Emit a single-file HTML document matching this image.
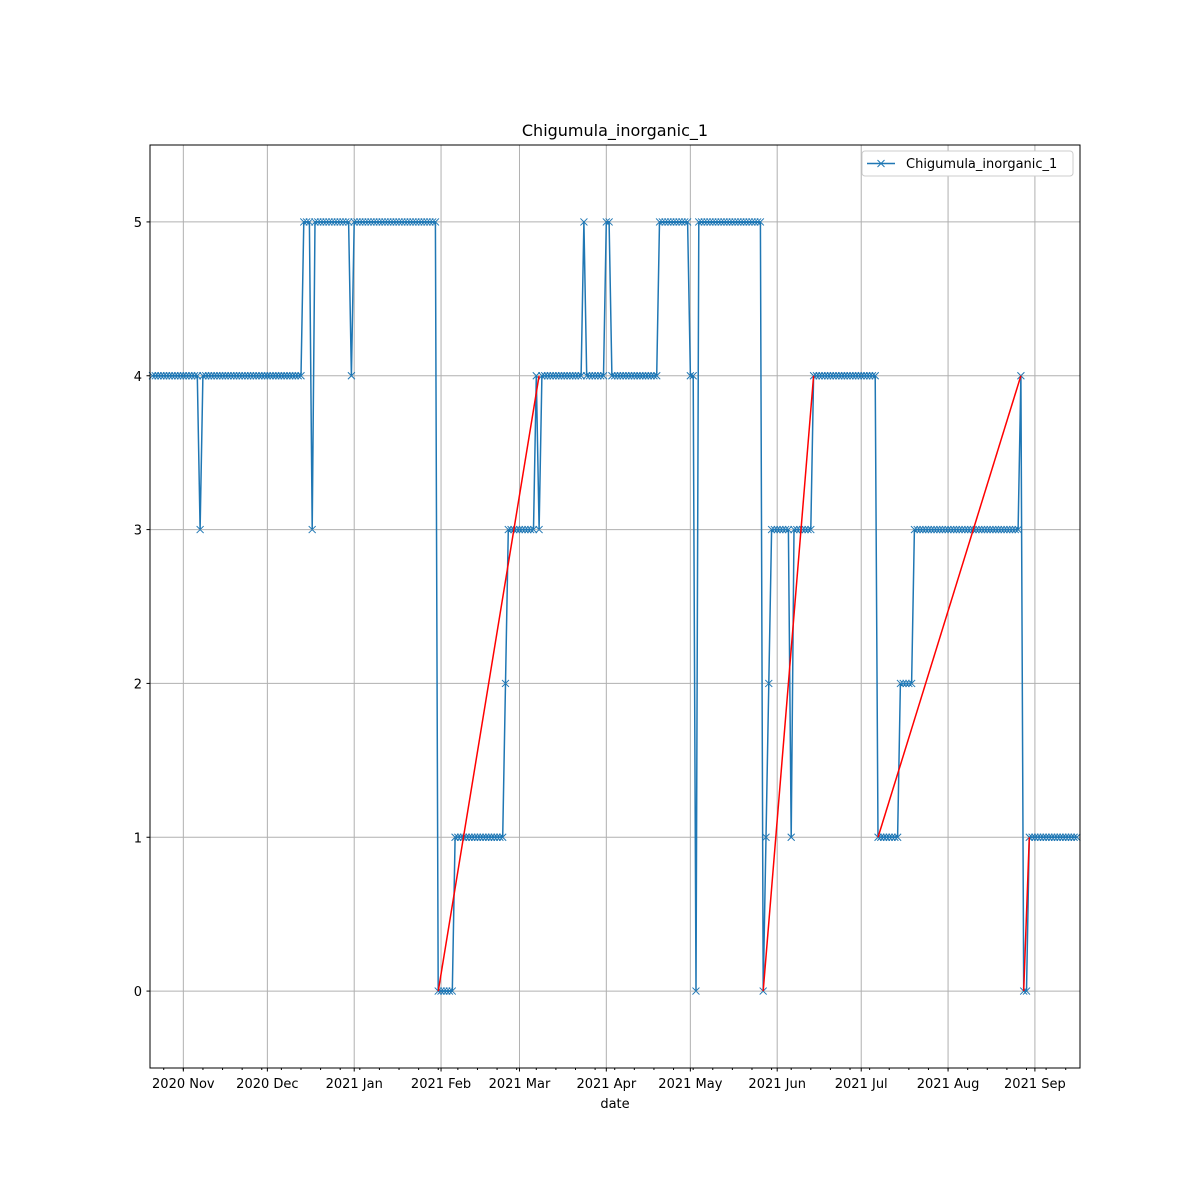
<!DOCTYPE html>
<html><head><meta charset="utf-8"><style>
html,body{margin:0;padding:0;background:#fff;}
svg{display:block;font-family:"DejaVu Sans","Liberation Sans",sans-serif;}
</style></head><body>
<svg id="chart" width="1200" height="1200"></svg>
<script>
// start date of the series: 2020-10-21, daily observations
const startDate = "2020-10-21";
const runValues  = [4,3,4,5,3,5,4,5,0,1,2,3,4,3,4,5,4,5,4,5,4,0,5,0,1,2,3,1,3,4,1,2,3,4,0,1];
const runLengths = [17,1,36,3,1,13,1,30,6,18,1,10,1,1,15,1,7,2,17,11,2,1,23,1,1,1,7,1,7,23,8,5,38,1,2,18];
const redStartDays = [102,218,259,311];
const redStartVals = [0,0,1,0];
const redEndDays = [138,236,310,313];
const redEndVals = [4,4,4,1];
const yTicks = [0,1,2,3,4,5];
const xTickLabels = ["2020 Nov","2020 Dec","2021 Jan","2021 Feb","2021 Mar","2021 Apr","2021 May","2021 Jun","2021 Jul","2021 Aug","2021 Sep"];
const xTickDates = ["2020-11-01","2020-12-01","2021-01-01","2021-02-01","2021-03-01","2021-04-01","2021-05-01","2021-06-01","2021-07-01","2021-08-01","2021-09-01"];

const L=150,R=1080,T=145,B=1068;
const t0=Date.parse(startDate), DAY=86400000;
const dmin=Date.parse("2020-10-20")/DAY+0.1, dmax=Date.parse("2021-09-17")/DAY+0.1;
const xd=d=>L+(d-dmin)/(dmax-dmin)*(R-L);
const xDay=i=>xd(t0/DAY+i);
const y=v=>T+(5.5-v)/6*(B-T);
const svg=document.getElementById('chart');
const NS="http://www.w3.org/2000/svg";
function mk(tag,attrs,parent){const e=document.createElementNS(NS,tag);for(const k in attrs)e.setAttribute(k,attrs[k]);(parent||svg).appendChild(e);return e;}

const vals=[];runValues.forEach((v,i)=>{for(let k=0;k<runLengths[i];k++)vals.push(v);});

const grid=mk('g',{});


xTickDates.forEach(s=>{const x=xd(Date.parse(s)/DAY);mk('line',{x1:x,x2:x,y1:T,y2:B,stroke:'#b0b0b0','stroke-width':1},grid);});
yTicks.forEach(v=>mk('line',{x1:L,x2:R,y1:y(v),y2:y(v),stroke:'#b0b0b0','stroke-width':1},grid));

const ser=mk('g',{});


mk('polyline',{points:vals.map((v,i)=>xDay(i).toFixed(1)+','+y(v).toFixed(1)).join(' '),fill:'none',stroke:'#1f77b4','stroke-width':1.5},ser);
let mp='';vals.forEach((v,i)=>{const cx=xDay(i),cy=y(v);mp+=`M${cx-3.5},${cy-3.5}L${cx+3.5},${cy+3.5}M${cx-3.5},${cy+3.5}L${cx+3.5},${cy-3.5}`;});
mk('path',{d:mp,stroke:'#1f77b4','stroke-width':1,fill:'none'},ser);

redStartDays.forEach((d,i)=>{
  const l=mk('line',{x1:xDay(d),y1:y(redStartVals[i]),x2:xDay(redEndDays[i]),y2:y(redEndVals[i]),stroke:'#ff0000','stroke-width':1.5});
  
  
});

const frame=mk('rect',{x:L,y:T,width:R-L,height:B-T,fill:'none',stroke:'#000','stroke-width':1});



const xa=mk('g',{});


for(let d=Date.parse("2020-10-25")/DAY; d<dmax; d+=7){const x=xd(d);if(x>L&&x<R)mk('line',{x1:x,x2:x,y1:B,y2:B+2,stroke:'#000'},xa);}
xTickDates.forEach((s,i)=>{const x=xd(Date.parse(s)/DAY);mk('line',{x1:x,x2:x,y1:B,y2:B+3.5,stroke:'#000'},xa);
  const t=mk('text',{x:x,y:B+20,'text-anchor':'middle','font-size':13,fill:'#000'},xa);t.textContent=xTickLabels[i];
  
  });
const xt=mk('text',{x:(L+R)/2,y:1108,'text-anchor':'middle','font-size':13},xa);xt.textContent='date';



const ya=mk('g',{});


yTicks.forEach(v=>{mk('line',{x1:L-3.5,x2:L,y1:y(v),y2:y(v),stroke:'#000'},ya);
  const t=mk('text',{x:L-8,y:y(v)+5,'text-anchor':'end','font-size':13},ya);t.textContent=v;
  
  });

const ti=mk('text',{x:(L+R)/2,y:136,'text-anchor':'middle','font-size':16});ti.textContent='Chigumula_inorganic_1';



const lg=mk('g',{});


mk('rect',{x:862,y:151,width:211,height:25,rx:3,fill:'#fff',stroke:'#ccc'},lg);
mk('line',{x1:867,x2:895,y1:163.5,y2:163.5,stroke:'#1f77b4','stroke-width':1.5},lg);
mk('path',{d:'M877.5,160L884.5,167M877.5,167L884.5,160',stroke:'#1f77b4','stroke-width':1},lg);
const lt=mk('text',{x:906,y:168,'font-size':13},lg);lt.textContent='Chigumula_inorganic_1';


</script>
</body></html>
